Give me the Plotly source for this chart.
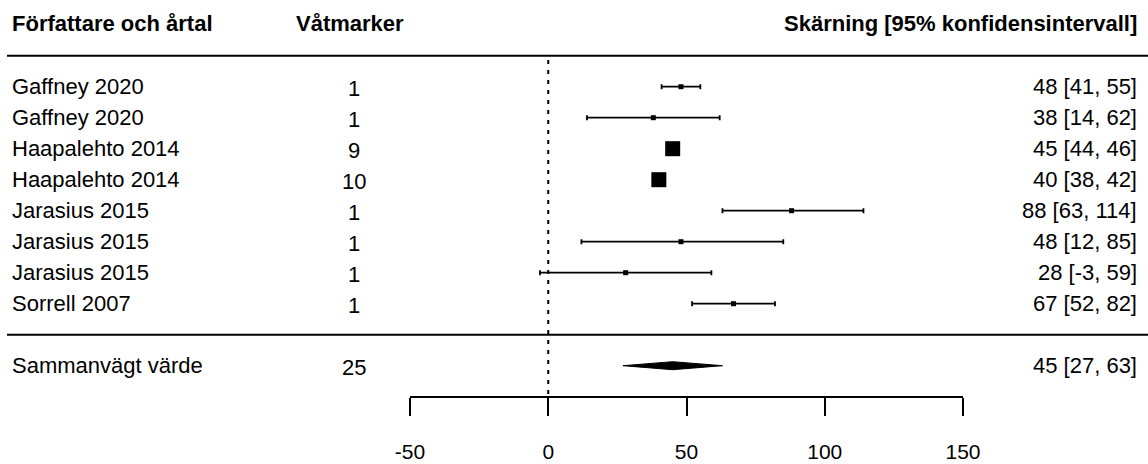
import plotly.graph_objects as go
import numpy as np

# ---------------- data ----------------
studies = ["Gaffney 2020", "Gaffney 2020", "Haapalehto 2014", "Haapalehto 2014",
           "Jarasius 2015", "Jarasius 2015", "Jarasius 2015", "Sorrell 2007"]
wetlands = [1, 1, 9, 10, 1, 1, 1, 1]
estimate = [48, 38, 45, 40, 88, 48, 28, 67]
ci_low = [41, 14, 44, 38, 63, 12, -3, 52]
ci_high = [55, 62, 46, 42, 114, 85, 59, 82]

summary_label = "Sammanvägt värde"
summary_n = 25
summary_est = 45
summary_low = 27
summary_high = 63

header_left = "Författare och årtal"
header_mid = "Våtmarker"
header_right = "Skärning [95% konfidensintervall]"
tick_vals = [-50, 0, 50, 100, 150]

# ---------------- geometry ----------------
W, H = 1148, 464
ROW0_PX, ROW_PX = 86.7, 31.0
n = len(studies)
rows = list(range(n))
sep_row = n
sum_row = n + 1
axis_row = n + 2
y_top = -ROW0_PX / ROW_PX
y_bot = (H - ROW0_PX) / ROW_PX
axis_pos = 1 - (ROW0_PX + ROW_PX * axis_row) / H

FONT = "Liberation Sans, Arial, sans-serif"
FS = 22
FS_TICK = 21

est = np.array(estimate, float)
lo = np.array(ci_low, float)
hi = np.array(ci_high, float)
width_ci = hi - lo
msize = np.clip(70.0 / width_ci, 5, 15)

fig = go.Figure()

# reference line at 0
fig.add_trace(go.Scatter(x=[0, 0], y=[-0.86, axis_row], mode="lines",
                         line=dict(color="black", width=2, dash="4px,6px"),
                         hoverinfo="skip", showlegend=False))

# study estimates with CIs
fig.add_trace(go.Scatter(
    x=est, y=rows, mode="markers",
    marker=dict(symbol="square", size=msize, color="black", opacity=1,
                line=dict(width=0)),
    error_x=dict(type="data", symmetric=False, array=hi - est, arrayminus=est - lo,
                 color="black", thickness=1.8, width=2.5),
    showlegend=False, hoverinfo="skip"))

# summary diamond
h = 4.0 / ROW_PX
fig.add_trace(go.Scatter(
    x=[summary_low, summary_est, summary_high, summary_est, summary_low],
    y=[sum_row, sum_row + h, sum_row, sum_row - h, sum_row],
    mode="lines", fill="toself", fillcolor="black",
    line=dict(color="black", width=1), showlegend=False, hoverinfo="skip"))

ann = []
def px(xp):
    return xp / W

# headers
ann.append(dict(x=px(10), y=-2.05, text="<b>%s</b>" % header_left, xanchor="left"))
ann.append(dict(x=px(350), y=-2.05, text="<b>%s</b>" % header_mid, xanchor="center"))
ann.append(dict(x=px(1139), y=-2.05, text="<b>%s</b>" % header_right, xanchor="right"))

def fmt(e, l, u):
    return "%d [%d, %d]" % (e, l, u)

for i in rows:
    ann.append(dict(x=px(10), y=i, text=studies[i], xanchor="left"))
    ann.append(dict(x=px(354), y=i, text=str(wetlands[i]), xanchor="center", yshift=-2))
    ann.append(dict(x=px(1139), y=i, text=fmt(estimate[i], ci_low[i], ci_high[i]), xanchor="right"))

ann.append(dict(x=px(10), y=sum_row, text=summary_label, xanchor="left"))
ann.append(dict(x=px(354), y=sum_row, text=str(summary_n), xanchor="center", yshift=-2))
ann.append(dict(x=px(1139), y=sum_row, text=fmt(summary_est, summary_low, summary_high), xanchor="right"))

for a in ann:
    a.update(xref="paper", yref="y", yanchor="middle", showarrow=False,
             font=dict(family=FONT, size=FS, color="black"))

shapes = [
    dict(type="line", xref="paper", yref="y", x0=px(7), x1=1, y0=-1, y1=-1,
         line=dict(color="black", width=2)),
    dict(type="line", xref="paper", yref="y", x0=px(7), x1=1, y0=sep_row, y1=sep_row,
         line=dict(color="black", width=2)),
]

fig.update_layout(
    width=W, height=H, margin=dict(l=0, r=0, t=0, b=0, pad=0, autoexpand=False),
    paper_bgcolor="white", plot_bgcolor="white",
    annotations=ann, shapes=shapes,
    xaxis=dict(domain=[px(410), px(963)], range=[-50, 150], anchor="free",
               position=axis_pos, showline=True, linecolor="black", linewidth=2,
               ticks="outside", ticklen=18, tickwidth=2, tickcolor="black",
               tickvals=tick_vals, ticktext=[str(t) for t in tick_vals],
               tickfont=dict(family=FONT, size=FS_TICK, color="black"),
               ticklabelstandoff=18, showgrid=False, zeroline=False, fixedrange=True,
               automargin=False),
    yaxis=dict(domain=[0, 1], range=[y_bot, y_top], visible=False,
               showgrid=False, zeroline=False, fixedrange=True, automargin=False),
    showlegend=False,
)

fig.write_html("out.html")
